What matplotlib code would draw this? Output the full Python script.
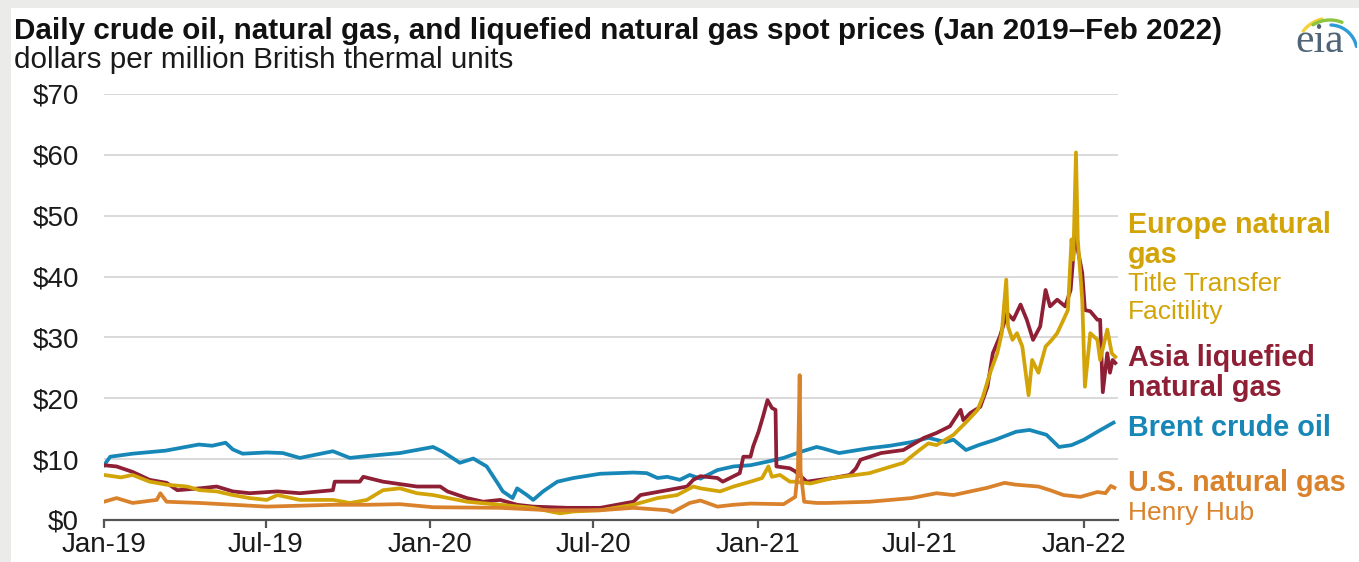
import numpy as np
import pandas as pd
import matplotlib
matplotlib.use("Agg")
import matplotlib.pyplot as plt
import matplotlib.dates as mdates
from matplotlib.patches import Rectangle

plt.rcParams['font.family'] = ['Liberation Sans', 'DejaVu Sans']

# ---- data (dollars per MMBtu) ----
brent_dates = ["2019-01-01", "2019-01-08", "2019-02-02", "2019-03-11", "2019-04-17", "2019-05-02",
               "2019-05-17", "2019-05-25", "2019-06-05", "2019-07-02", "2019-07-20", "2019-08-08",
               "2019-09-14", "2019-10-03", "2019-10-22", "2019-11-28", "2020-01-04", "2020-01-15",
               "2020-02-03", "2020-02-18", "2020-03-04", "2020-03-16", "2020-03-22", "2020-04-02",
               "2020-04-07", "2020-04-18", "2020-04-25", "2020-05-06", "2020-05-22", "2020-06-09",
               "2020-07-09", "2020-08-15", "2020-08-30", "2020-09-11", "2020-09-22", "2020-10-06",
               "2020-10-17", "2020-10-29", "2020-11-17", "2020-12-05", "2020-12-24", "2021-01-12",
               "2021-01-30", "2021-02-18", "2021-03-08", "2021-03-14", "2021-04-02", "2021-05-06",
               "2021-05-29", "2021-06-22", "2021-07-11", "2021-07-30", "2021-08-08", "2021-08-22",
               "2021-09-05", "2021-09-24", "2021-10-17", "2021-11-01", "2021-11-20", "2021-12-04",
               "2021-12-18", "2022-01-01", "2022-01-16", "2022-02-03"]
brent = [9.0, 10.4, 10.9, 11.4, 12.4, 12.2, 12.7, 11.6, 10.9, 11.1, 11.0, 10.2,
         11.3, 10.2, 10.5, 11.0, 12.0, 11.2, 9.4, 10.1, 8.8, 6.1, 4.7, 3.6,
         5.2, 4.1, 3.3, 4.7, 6.3, 6.9, 7.6, 7.8, 7.7, 6.9, 7.1, 6.6,
         7.4, 6.8, 8.2, 8.8, 9.0, 9.6, 10.2, 11.2, 12.0, 11.8, 11.0, 11.8,
         12.2, 12.8, 13.5, 12.8, 13.2, 11.5, 12.3, 13.2, 14.5, 14.8, 14.0, 12.0,
         12.3, 13.2, 14.5, 16.0]

hh_dates = ["2019-01-01", "2019-01-15", "2019-02-02", "2019-03-01", "2019-03-05", "2019-03-12",
            "2019-04-18", "2019-07-02", "2019-09-14", "2019-10-22", "2019-11-28", "2020-01-04",
            "2020-03-19", "2020-05-14", "2020-07-09", "2020-08-15", "2020-09-22", "2020-09-28",
            "2020-10-17", "2020-10-29", "2020-11-17", "2020-12-05", "2020-12-24", "2021-01-30",
            "2021-02-12", "2021-02-15", "2021-02-17", "2021-02-18", "2021-02-22", "2021-03-08",
            "2021-03-20", "2021-05-06", "2021-06-22", "2021-07-20", "2021-08-08", "2021-09-15",
            "2021-10-04", "2021-10-17", "2021-11-11", "2021-11-24", "2021-12-09", "2021-12-28",
            "2022-01-16", "2022-01-25", "2022-01-31", "2022-02-04"]
henry_hub = [3.0, 3.6, 2.8, 3.3, 4.4, 3.0, 2.8, 2.2, 2.5, 2.5, 2.6, 2.1,
             2.0, 1.6, 1.6, 2.0, 1.6, 1.3, 2.8, 3.2, 2.2, 2.5, 2.7, 2.6,
             3.8, 8.0, 23.8, 8.0, 3.0, 2.8, 2.8, 3.0, 3.6, 4.4, 4.1, 5.3,
             6.1, 5.8, 5.5, 4.9, 4.1, 3.8, 4.6, 4.4, 5.6, 5.3]

asia_dates = ["2019-01-01", "2019-01-15", "2019-02-02", "2019-02-21", "2019-03-12", "2019-03-24",
              "2019-04-18", "2019-05-07", "2019-05-25", "2019-06-13", "2019-07-14", "2019-08-08",
              "2019-09-14", "2019-09-16", "2019-10-14", "2019-10-18", "2019-11-09", "2019-12-17",
              "2020-01-04", "2020-01-12", "2020-01-20", "2020-02-11", "2020-02-29", "2020-03-19",
              "2020-04-07", "2020-04-25", "2020-06-02", "2020-07-09", "2020-08-15", "2020-08-23",
              "2020-09-22", "2020-10-14", "2020-10-21", "2020-10-29", "2020-11-17", "2020-11-23",
              "2020-12-12", "2020-12-16", "2020-12-24", "2020-12-27", "2021-01-02", "2021-01-07",
              "2021-01-12", "2021-01-17", "2021-01-21", "2021-01-22", "2021-02-06", "2021-02-12",
              "2021-02-25", "2021-03-26", "2021-04-14", "2021-04-21", "2021-04-26", "2021-05-19",
              "2021-06-13", "2021-07-06", "2021-07-20", "2021-08-04", "2021-08-16", "2021-08-19",
              "2021-08-27", "2021-09-07", "2021-09-15", "2021-09-21", "2021-09-29", "2021-10-07",
              "2021-10-14", "2021-10-22", "2021-10-29", "2021-11-05", "2021-11-13", "2021-11-19",
              "2021-11-24", "2021-12-02", "2021-12-11", "2021-12-17", "2021-12-20", "2021-12-23",
              "2021-12-25", "2021-12-30", "2022-01-02", "2022-01-08", "2022-01-16", "2022-01-19",
              "2022-01-22", "2022-01-27", "2022-01-30", "2022-02-02", "2022-02-05"]
asia_lng = [9.0, 8.8, 7.9, 6.6, 6.1, 4.9, 5.2, 5.5, 4.7, 4.4, 4.7, 4.4,
            4.9, 6.3, 6.3, 7.1, 6.3, 5.5, 5.5, 5.5, 4.7, 3.6, 3.0, 3.3,
            2.5, 2.2, 2.0, 2.0, 3.0, 4.1, 4.9, 5.5, 6.6, 7.2, 6.9, 6.3,
            7.7, 10.4, 10.4, 12.1, 14.5, 17.0, 19.7, 18.4, 18.1, 8.8, 8.5, 8.0,
            6.3, 6.9, 7.4, 8.5, 9.9, 11.0, 11.5, 13.5, 14.3, 15.4, 18.1, 16.4,
            17.6, 18.6, 21.9, 27.4, 30.2, 34.0, 32.9, 35.4, 32.9, 29.6, 31.8, 37.8,
            35.1, 36.2, 35.1, 37.8, 43.3, 49.3, 44.4, 40.6, 34.5, 34.3, 32.9, 32.9,
            21.0, 27.4, 24.2, 26.3, 25.8]

ttf_dates = ["2019-01-01", "2019-01-20", "2019-02-02", "2019-02-21", "2019-03-12", "2019-04-04",
             "2019-04-18", "2019-05-07", "2019-05-25", "2019-06-13", "2019-07-02", "2019-07-14",
             "2019-08-08", "2019-09-14", "2019-10-03", "2019-10-22", "2019-11-09", "2019-11-28",
             "2019-12-17", "2020-01-04", "2020-02-11", "2020-03-19", "2020-04-25", "2020-05-14",
             "2020-05-25", "2020-06-09", "2020-07-09", "2020-08-15", "2020-09-11", "2020-10-03",
             "2020-10-21", "2020-10-29", "2020-11-20", "2020-12-05", "2020-12-24", "2021-01-06",
             "2021-01-13", "2021-01-17", "2021-01-26", "2021-02-06", "2021-02-12", "2021-03-01",
             "2021-03-26", "2021-05-06", "2021-06-13", "2021-07-01", "2021-07-11", "2021-07-20",
             "2021-08-08", "2021-08-23", "2021-09-04", "2021-09-10", "2021-09-18", "2021-09-26",
             "2021-10-01", "2021-10-06", "2021-10-08", "2021-10-13", "2021-10-18", "2021-10-24",
             "2021-10-31", "2021-11-04", "2021-11-11", "2021-11-19", "2021-11-26", "2021-12-02",
             "2021-12-09", "2021-12-14", "2021-12-18", "2021-12-20", "2021-12-23", "2021-12-25",
             "2021-12-30", "2022-01-02", "2022-01-08", "2022-01-16", "2022-01-19", "2022-01-27",
             "2022-02-01", "2022-02-05"]
europe_ttf = [7.4, 7.0, 7.4, 6.3, 5.8, 5.5, 4.9, 4.7, 4.1, 3.6, 3.3, 4.1,
              3.3, 3.3, 2.8, 3.3, 4.9, 5.2, 4.4, 4.1, 3.0, 2.5, 2.0, 1.4,
              1.1, 1.4, 1.6, 2.5, 3.6, 4.1, 5.5, 5.2, 4.7, 5.5, 6.3, 6.9,
              8.8, 7.1, 7.4, 6.3, 6.3, 6.0, 6.9, 7.7, 9.4, 11.5, 12.6, 12.3,
              14.0, 16.2, 18.1, 20.3, 24.2, 27.4, 30.7, 39.5, 31.8, 29.6, 30.7, 28.5,
              20.5, 26.3, 24.2, 28.5, 29.6, 30.7, 32.9, 34.5, 46.1, 42.8, 60.4, 46.1,
              36.2, 21.9, 30.7, 29.6, 26.3, 31.3, 27.4, 26.8]

BLUE = '#1787b7'
GOLD = '#d3a408'
RED = '#8e1f35'
ORANGE = '#d9822b'

W, H = 1359, 562
fig = plt.figure(figsize=(W / 100, H / 100), dpi=100)
fig.patch.set_facecolor('white')

# light gray frame on top and left edges
fig.patches.append(Rectangle((0, 0), 11 / W, 1, transform=fig.transFigure,
                             facecolor='#ebebe9', edgecolor='none', zorder=0))
fig.patches.append(Rectangle((0, 1 - 8 / H), 1, 8 / H, transform=fig.transFigure,
                             facecolor='#ebebe9', edgecolor='none', zorder=0))

ax = fig.add_axes([104 / W, 1 - 520 / H, (1118 - 104) / W, (520 - 94) / H])

LW = 2.7
ax.plot(pd.to_datetime(brent_dates), brent, color=BLUE, lw=LW, zorder=3)
ax.plot(pd.to_datetime(asia_dates), asia_lng, color=RED, lw=LW, zorder=4)
ax.plot(pd.to_datetime(ttf_dates), europe_ttf, color=GOLD, lw=LW, zorder=5)
ax.plot(pd.to_datetime(hh_dates), henry_hub, color=ORANGE, lw=LW, zorder=6)

ax.set_ylim(0, 70)
ax.set_xlim(pd.Timestamp("2019-01-01"), pd.Timestamp("2022-02-08"))
ax.set_yticks(np.arange(0, 71, 10))
ax.yaxis.set_major_formatter(lambda v, p: f"${v:.0f}")
ax.xaxis.set_major_locator(mdates.MonthLocator(bymonth=[1, 7]))
ax.xaxis.set_major_formatter(mdates.DateFormatter('%b-%y'))

ax.grid(axis='y', color='#d9d9d9', lw=1.4, zorder=0)
for s in ['top', 'right', 'left']:
    ax.spines[s].set_visible(False)
ax.spines['bottom'].set_color('#555555')
ax.spines['bottom'].set_linewidth(1.6)
ax.spines['bottom'].set_zorder(7)
ax.tick_params(axis='y', length=0, pad=18, labelsize=20, labelcolor='#1a1a1a')
ax.tick_params(axis='x', length=6, width=1.6, color='#555555', pad=3,
               labelsize=20, labelcolor='#1a1a1a')
ax.set_facecolor('none')


def px(x, y):
    return x / W, 1 - y / H


fig.text(*px(14, 31), "Daily crude oil, natural gas, and liquefied natural gas spot prices (Jan 2019\u2013Feb 2022)",
         fontsize=21.3, fontweight='bold', color='#111111', va='center', ha='left')
fig.text(*px(14, 60), "dollars per million British thermal units",
         fontsize=21.3, color='#1a1a1a', va='center', ha='left')

# series labels at right
labels = [
    ("Europe natural", 225, GOLD, 'bold'),
    ("gas", 255, GOLD, 'bold'),
    ("Title Transfer", 284, GOLD, 'normal'),
    ("Facitility", 312, GOLD, 'normal'),
    ("Asia liquefied", 358, RED, 'bold'),
    ("natural gas", 388, RED, 'bold'),
    ("Brent crude oil", 428, BLUE, 'bold'),
    ("U.S. natural gas", 483, ORANGE, 'bold'),
    ("Henry Hub", 513, ORANGE, 'normal'),
]
for txt, ypx, col, wt in labels:
    fig.text(*px(1128, ypx), txt, fontsize=20.7 if wt == 'bold' else 19,
             fontweight=wt, color=col, va='center', ha='left')

# eia logo
lax = fig.add_axes([1285 / W, 1 - 62 / H, 72 / W, 56 / H])
lax.set_xlim(1285, 1357)
lax.set_ylim(62, 6)
lax.axis('off')
lax.text(1320, 42, "eia", fontsize=30, family='Liberation Serif', color='#4f6477',
         ha='center', va='center')
for r, a0, a1, col in [(34, 142, 104, '#f0d23a'), (32, 122, 68, '#8cc43f'), (27, 88, 12, '#2e9ad6')]:
    t = np.radians(np.linspace(a0, a1, 40))
    lax.plot(1330 + r * np.cos(t), 52 - r * np.sin(t), color=col, lw=2.4, solid_capstyle='round')

fig.savefig("out.png", dpi=100)
